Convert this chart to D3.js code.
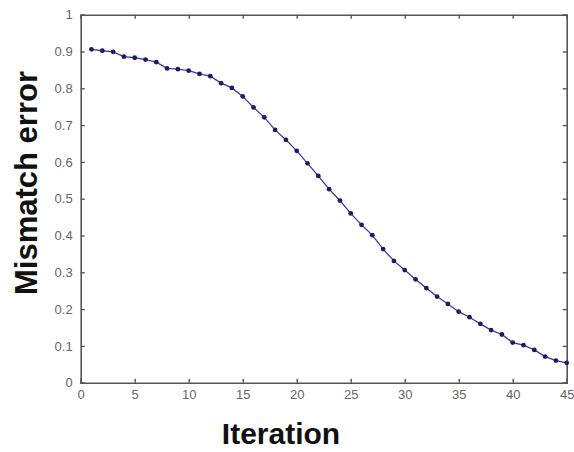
<!DOCTYPE html>
<html>
<head>
<meta charset="utf-8">
<script src="https://cdn.jsdelivr.net/npm/d3@7"></script>
<style>
  body { margin: 0; background: #fff; }
  svg { display: block; }
</style>
</head>
<body>
<div class="main"></div>
<script>
// values
const iterations = d3.range(1, 46);
const mismatch = [
  0.906, 0.902, 0.899, 0.886, 0.883, 0.878, 0.871, 0.854, 0.852, 0.848,
  0.839, 0.833, 0.814, 0.801, 0.778, 0.748, 0.721, 0.687, 0.660, 0.630,
  0.596, 0.562, 0.526, 0.495, 0.460, 0.429, 0.401, 0.363, 0.331, 0.306,
  0.281, 0.257, 0.234, 0.214, 0.193, 0.178, 0.160, 0.143, 0.131, 0.109,
  0.102, 0.089, 0.071, 0.060, 0.054
];
const xTicks = [0, 5, 10, 15, 20, 25, 30, 35, 40, 45];
const yTicks = [0, 0.1, 0.2, 0.3, 0.4, 0.5, 0.6, 0.7, 0.8, 0.9, 1];

let opts = {
  width: 574,
  height: 452,
  left: 80.7,
  right: 566.7,
  top: 14.7,
  bottom: 382.7
};

let svg = d3.select('.main').append('svg')
  .attr('width', opts.width)
  .attr('height', opts.height);

let x = d3.scaleLinear().domain([0, 45]).range([opts.left, opts.right]);
let y = d3.scaleLinear().domain([0, 1]).range([opts.bottom, opts.top]);

let axisColor = '#555';

// bottom axis, ticks pointing inward
let gx = svg.append('g')
  .attr('transform', `translate(0,${opts.bottom})`)
  .call(d3.axisBottom(x).tickValues(xTicks).tickSize(-4).tickPadding(7).tickFormat(d => String(d)));
// top axis, no labels
let gxt = svg.append('g')
  .attr('transform', `translate(0,${opts.top})`)
  .call(d3.axisTop(x).tickValues(xTicks).tickSize(-4).tickFormat(''));
// left axis
let gy = svg.append('g')
  .attr('transform', `translate(${opts.left},0)`)
  .call(d3.axisLeft(y).tickValues(yTicks).tickSize(-4).tickPadding(8).tickFormat(d => String(d)));
// right axis
let gyr = svg.append('g')
  .attr('transform', `translate(${opts.right},0)`)
  .call(d3.axisRight(y).tickValues(yTicks).tickSize(-4).tickFormat(''));

[gx, gxt, gy, gyr].forEach(g => {
  g.select('.domain').attr('stroke', axisColor).attr('stroke-width', 1.6);
  g.selectAll('.tick line').attr('stroke', axisColor).attr('stroke-width', 1.4);
  g.selectAll('.tick text')
    .attr('fill', '#666')
    .style('font-family', 'Liberation Sans, Arial, sans-serif')
    .style('font-size', '13px');
});

// the curve
let line = d3.line()
  .x((d, i) => x(iterations[i]))
  .y(d => y(d));

svg.append('path')
  .datum(mismatch)
  .attr('fill', 'none')
  .attr('stroke', '#3c3ca8')
  .attr('stroke-width', 1.3)
  .attr('d', line);

svg.selectAll('circle.pt')
  .data(mismatch)
  .enter().append('circle')
  .attr('class', 'pt')
  .attr('cx', (d, i) => x(iterations[i]))
  .attr('cy', d => y(d))
  .attr('r', 2.4)
  .attr('fill', '#1c1c5e');

// axis titles
svg.append('text')
  .attr('x', 281)
  .attr('y', 444)
  .attr('text-anchor', 'middle')
  .style('font-family', 'Liberation Sans, Arial, sans-serif')
  .style('font-weight', 'bold')
  .style('font-size', '30px')
  .attr('fill', '#111')
  .text('Iteration');

svg.append('text')
  .attr('transform', 'translate(37,183) rotate(-90)')
  .attr('text-anchor', 'middle')
  .style('font-family', 'Liberation Sans, Arial, sans-serif')
  .style('font-weight', 'bold')
  .style('font-size', '31px')
  .attr('fill', '#111')
  .text('Mismatch error');
</script>
</body>
</html>
